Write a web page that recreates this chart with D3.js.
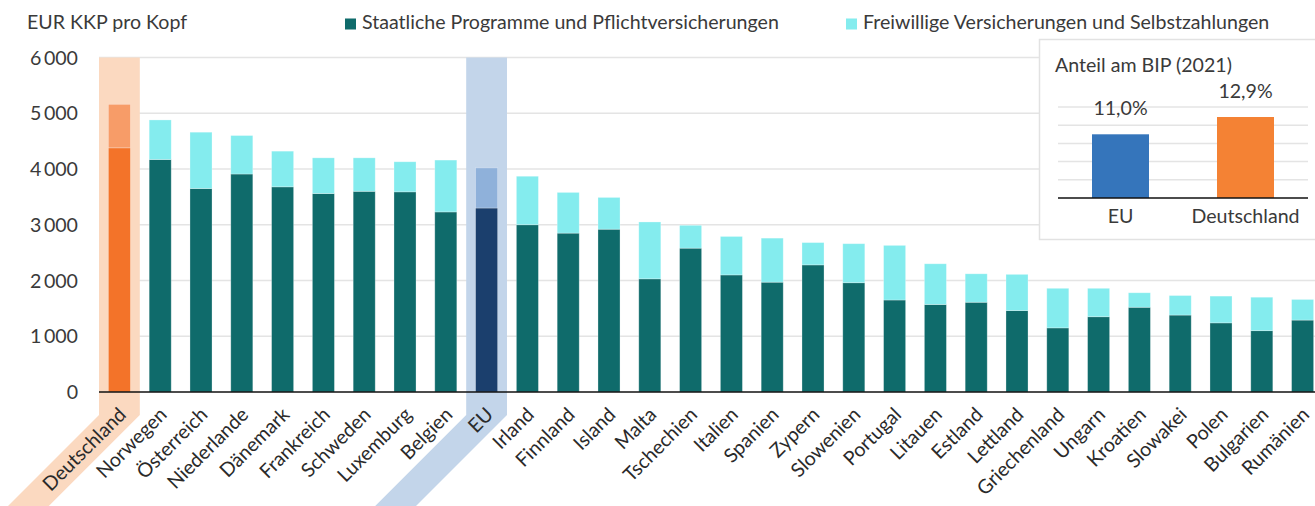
<!DOCTYPE html>
<html>
<head>
<meta charset="utf-8">
<script src="https://cdn.jsdelivr.net/npm/d3@7"></script>
<style>
  body { margin: 0; background: #fff; }
  svg { display: block; font-family: Lato, "Open Sans", sans-serif; }
</style>
</head>
<body>
<svg width="1315" height="506"></svg>
<script>
// DATEN (EUR KKP pro Kopf)
var laender = ["Deutschland", "Norwegen", "Österreich", "Niederlande", "Dänemark", "Frankreich",
  "Schweden", "Luxemburg", "Belgien", "EU", "Irland", "Finnland", "Island", "Malta", "Tschechien",
  "Italien", "Spanien", "Zypern", "Slowenien", "Portugal", "Litauen", "Estland", "Lettland",
  "Griechenland", "Ungarn", "Kroatien", "Slowakei", "Polen", "Bulgarien", "Rumänien"];
var staatlich = [4380, 4170, 3650, 3910, 3680, 3560, 3600, 3590, 3230, 3300, 3000, 2850, 2920, 2030,
  2580, 2100, 1970, 2280, 1960, 1650, 1570, 1610, 1460, 1150, 1350, 1520, 1380, 1240, 1100, 1290];
var freiwillig = [780, 710, 1010, 690, 640, 640, 600, 540, 930, 720, 870, 730, 570, 1020,
  410, 690, 790, 400, 700, 980, 730, 510, 650, 710, 510, 260, 350, 480, 600, 370];
var y_ticks = [0, 1000, 2000, 3000, 4000, 5000, 6000];
var serien = ["Staatliche Programme und Pflichtversicherungen", "Freiwillige Versicherungen und Selbstzahlungen"];

// inset: Anteil am BIP
var bip_labels = ["EU", "Deutschland"];
var bip_werte = [11.0, 12.9];
var bip_ticks = [4, 6, 8, 10, 12, 14];

var farben = {
  normal: ["#0f6b6b", "#84ecee"],
  Deutschland: ["#f37329", "#f79c68"],
  EU: ["#1b3f6d", "#8fb1da"]
};
var band_farbe = { Deutschland: "#fbd9c0", EU: "#c3d5ea" };
var bip_farben = ["#3575bb", "#f48234"];
var fs = 19.6; // schriftgroesse
var txt = "#3a3a3a";

var svg = d3.select("svg"),
  width = +svg.attr("width"),
  height = +svg.attr("height");

var x = d3.scaleBand()
  .domain(laender)
  .range([99, 1323])
  .paddingInner(0.46)
  .paddingOuter(0.23);

var y = d3.scaleLinear()
  .domain([0, 6000])
  .range([392, 57.5]);

var fmt = function(d) { return d3.format(",")(d).replace(",", "\u2009"); };

// gitterlinien
var grid = svg.append("g").attr("class", "grid");
grid.selectAll("line")
  .data(y_ticks.filter(function(d) { return d > 0; }))
  .enter().append("line")
  .attr("x1", 99).attr("x2", width)
  .attr("y1", function(d) { return y(d); })
  .attr("y2", function(d) { return y(d); })
  .attr("stroke", "#e4e4e4")
  .attr("stroke-width", 1.5);

// y labels
svg.append("g").selectAll("text")
  .data(y_ticks)
  .enter().append("text")
  .attr("x", 78)
  .attr("y", function(d) { return y(d); })
  .attr("dy", "0.36em")
  .attr("text-anchor", "end")
  .attr("font-size", fs)
  .attr("fill", txt)
  .text(function(d) { return d === 0 ? "0" : fmt(d); });

// hervorgehobene baender (Deutschland, EU)
var step = x.step();
["Deutschland", "EU"].forEach(function(k) {
  var x0 = x(k) - x.paddingInner() * step / 2,
    x1 = x0 + step,
    knick = 415,
    tief = 200;
  svg.append("path")
    .attr("d", "M" + [[x0, y(6000)], [x1, y(6000)], [x1, knick], [x1 - tief, knick + tief],
      [x0 - tief, knick + tief], [x0, knick]].join("L") + "Z")
    .attr("fill", band_farbe[k]);
});

// balken
var balken = svg.append("g").attr("class", "balken");
laender.forEach(function(land, i) {
  var f = farben[land] || farben.normal;
  balken.append("rect")
    .attr("x", x(land))
    .attr("width", x.bandwidth())
    .attr("y", y(staatlich[i]))
    .attr("height", y(0) - y(staatlich[i]))
    .attr("fill", f[0])
    .attr("stroke", "#fff").attr("stroke-opacity", 0.35).attr("stroke-width", 0.8);
  balken.append("rect")
    .attr("x", x(land))
    .attr("width", x.bandwidth())
    .attr("y", y(staatlich[i] + freiwillig[i]))
    .attr("height", y(staatlich[i]) - y(staatlich[i] + freiwillig[i]))
    .attr("fill", f[1])
    .attr("stroke", "#fff").attr("stroke-opacity", 0.35).attr("stroke-width", 0.8);
});

// x-achse
svg.append("line")
  .attr("x1", 99).attr("x2", width)
  .attr("y1", y(0)).attr("y2", y(0))
  .attr("stroke", "#111").attr("stroke-width", 1.5);

svg.append("g").selectAll("text")
  .data(laender)
  .enter().append("text")
  .attr("transform", function(d) {
    return "translate(" + (x(d) + x.bandwidth() / 2 + 3) + ",411) rotate(-45)";
  })
  .attr("dy", "0.35em")
  .attr("text-anchor", "end")
  .attr("font-size", fs)
  .attr("fill", "#2a2a2a")
  .text(function(d) { return d; });

// titel + legende
svg.append("text")
  .attr("x", 27).attr("y", 29)
  .attr("font-size", fs).attr("fill", txt)
  .text("EUR KKP pro Kopf");

var leg_x = [345, 846];
serien.forEach(function(s, i) {
  svg.append("rect")
    .attr("x", leg_x[i]).attr("y", 18.5)
    .attr("width", 11).attr("height", 11)
    .attr("fill", farben.normal[i]);
  svg.append("text")
    .attr("x", leg_x[i] + 17).attr("y", 29)
    .attr("font-size", fs).attr("fill", txt)
    .text(s);
});

// INSET: Anteil am BIP (2021)
var inset = svg.append("g").attr("class", "inset");
inset.append("rect")
  .attr("x", 1039.5).attr("y", 39.5)
  .attr("width", 300).attr("height", 200)
  .attr("fill", "#fff")
  .attr("stroke", "#e2e2e2").attr("stroke-width", 1.5);

inset.append("text")
  .attr("x", 1055).attr("y", 72)
  .attr("font-size", fs).attr("fill", txt)
  .text("Anteil am BIP (2021)");

var bx = d3.scaleBand()
  .domain(bip_labels)
  .range([1058, 1308])
  .paddingInner(0.544)
  .paddingOuter(0.272);
var by = d3.scaleLinear()
  .domain([4, 14])
  .range([198, 107]);

inset.selectAll("line.g")
  .data(bip_ticks.slice(1))
  .enter().append("line")
  .attr("class", "g")
  .attr("x1", 1058).attr("x2", 1308)
  .attr("y1", function(d) { return by(d); })
  .attr("y2", function(d) { return by(d); })
  .attr("stroke", "#e4e4e4").attr("stroke-width", 1.5);

inset.selectAll("rect.b")
  .data(bip_werte)
  .enter().append("rect")
  .attr("class", "b")
  .attr("x", function(d, i) { return bx(bip_labels[i]); })
  .attr("width", bx.bandwidth())
  .attr("y", function(d) { return by(d); })
  .attr("height", function(d) { return by(4) - by(d); })
  .attr("fill", function(d, i) { return bip_farben[i]; });

inset.append("line")
  .attr("x1", 1058).attr("x2", 1308)
  .attr("y1", by(4)).attr("y2", by(4))
  .attr("stroke", "#111").attr("stroke-width", 1.5);

inset.selectAll("text.w")
  .data(bip_werte)
  .enter().append("text")
  .attr("class", "w")
  .attr("x", function(d, i) { return bx(bip_labels[i]) + bx.bandwidth() / 2; })
  .attr("y", function(d) { return by(d) - 19; })
  .attr("text-anchor", "middle")
  .attr("font-size", fs).attr("fill", txt)
  .text(function(d) { return d.toFixed(1).replace(".", ",") + "%"; });

inset.selectAll("text.l")
  .data(bip_labels)
  .enter().append("text")
  .attr("class", "l")
  .attr("x", function(d) { return bx(d) + bx.bandwidth() / 2; })
  .attr("y", 223)
  .attr("text-anchor", "middle")
  .attr("font-size", fs).attr("fill", txt)
  .text(function(d) { return d; });
</script>
</body>
</html>
